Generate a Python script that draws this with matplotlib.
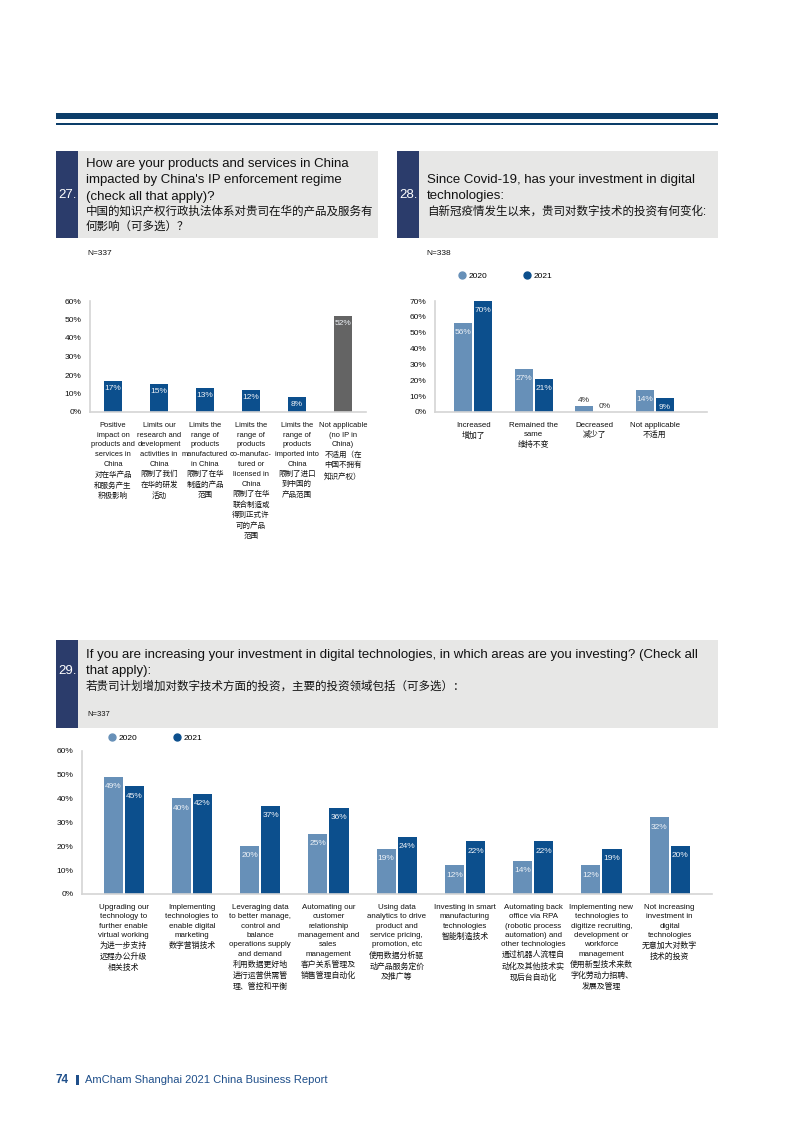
import matplotlib
matplotlib.use('Agg')
import matplotlib.pyplot as plt
from matplotlib.patches import Rectangle
from matplotlib.lines import Line2D
from matplotlib.ticker import PercentFormatter
import numpy as np

plt.rcParams['font.family'] = ['Liberation Sans', 'Noto Sans CJK SC']

# ---- data ----
q27_labels = [
    'Positive\nimpact on\nproducts and\nservices in\nChina\n对在华产品\n和服务产生\n积极影响',
    'Limits our\nresearch and\ndevelopment\nactivities in\nChina\n限制了我们\n在华的研发\n活动',
    'Limits the\nrange of\nproducts\nmanufactured\nin China\n限制了在华\n制造的产品\n范围',
    'Limits the\nrange of\nproducts\nco-manufac-\ntured or\nlicensed in\nChina\n限制了在华\n联合制造或\n得到正式许\n可的产品\n范围',
    'Limits the\nrange of\nproducts\nimported into\nChina\n限制了进口\n到中国的\n产品范围',
    'Not applicable\n(no IP in\nChina)\n不适用（在\n中国不拥有\n知识产权）',
]
q27_values = [17, 15, 13, 12, 8, 52]

q28_labels = ['Increased\n增加了', 'Remained the\nsame\n维持不变', 'Decreased\n减少了', 'Not applicable\n不适用']
q28_2020 = [56, 27, 4, 14]
q28_2021 = [70, 21, 0, 9]

q29_labels = [
    'Upgrading our\ntechnology to\nfurther enable\nvirtual working\n为进一步支持\n远程办公升级\n相关技术',
    'Implementing\ntechnologies to\nenable digital\nmarketing\n数字营销技术',
    'Leveraging data\nto better manage,\ncontrol and\nbalance\noperations supply\nand demand\n利用数据更好地\n进行运营供需管\n理、管控和平衡',
    'Automating our\ncustomer\nrelationship\nmanagement and\nsales\nmanagement\n客户关系管理及\n销售管理自动化',
    'Using data\nanalytics to drive\nproduct and\nservice pricing,\npromotion, etc\n使用数据分析驱\n动产品服务定价\n及推广等',
    'Investing in smart\nmanufacturing\ntechnologies\n智能制造技术',
    'Automating back\noffice via RPA\n(robotic process\nautomation) and\nother technologies\n通过机器人流程自\n动化及其他技术实\n现后台自动化',
    'Implementing new\ntechnologies to\ndigitize recruiting,\ndevelopment or\nworkforce\nmanagement\n使用新型技术来数\n字化劳动力招聘、\n发展及管理',
    'Not increasing\ninvestment in\ndigital\ntechnologies\n无意加大对数字\n技术的投资',
]
q29_2020 = [49, 40, 20, 25, 19, 12, 14, 12, 32]
q29_2021 = [45, 42, 37, 36, 24, 22, 22, 19, 20]

# ---- colours ----
RULE = '#0c3d69'
STRIP = '#2b3c6b'
BOXGREY = '#e7e7e6'
C2021 = '#0c4f8d'
C2020 = '#6790b8'
GREYBAR = '#646464'
SPINE = '#d4d4d4'
TXT = '#111111'

W, H = 793, 1122
fig = plt.figure(figsize=(W / 100, H / 100), dpi=100)


def fx(x):
    return x / W


def fy(y):
    return 1 - y / H


def rect(x0, y0, x1, y1, color):
    fig.add_artist(Rectangle((fx(x0), fy(y1)), (x1 - x0) / W, (y1 - y0) / H,
                             transform=fig.transFigure, color=color, lw=0))


def add_ax(x0, y0, x1, y1):
    return fig.add_axes([fx(x0), fy(y1), (x1 - x0) / W, (y1 - y0) / H])


def header(x0, y0, x1, y1, num, num_y, lines):
    rect(x0, y0, x1, y1, BOXGREY)
    rect(x0, y0, x0 + 22, y1, STRIP)
    fig.text(fx(x0 + 2), fy(num_y), num, color='white', fontsize=9.5, va='center')
    for txt, y, fs in lines:
        fig.text(fx(x0 + 30), fy(y), txt, color=TXT, fontsize=fs, va='center')


def style_ax(ax, ymax, step, xsize=5.7):
    ax.set_ylim(0, ymax)
    ax.set_yticks(np.arange(0, ymax + 1, step))
    ax.yaxis.set_major_formatter(PercentFormatter(decimals=0))
    for s in ['top', 'right']:
        ax.spines[s].set_visible(False)
    for s in ['left', 'bottom']:
        ax.spines[s].set_color(SPINE)
        ax.spines[s].set_linewidth(1.2)
    ax.tick_params(axis='y', length=0, pad=6, labelsize=6, labelcolor=TXT)
    ax.tick_params(axis='x', length=0, pad=7, labelsize=xsize, labelcolor=TXT)
    ax.patch.set_alpha(0)


def value_labels(ax, bars, values, off):
    for b, v in zip(bars, values):
        xc = b.get_x() + b.get_width() / 2
        if v < 6:
            ax.annotate(f'{v}%', (xc, v), xytext=(0, 4), textcoords='offset points',
                        ha='center', va='center', fontsize=6, color='#333333')
        else:
            ax.annotate(f'{v}%', (xc, v), xytext=(0, off), textcoords='offset points',
                        ha='center', va='center', fontsize=6, color='#eef2f7')


# ---- top rules ----
rect(56, 113, 718, 119.5, RULE)
rect(56, 122.5, 718, 125, RULE)

# ---- headers ----
header(56, 151, 378, 238, '27.', 195, [
    ('How are your products and services in China', 164, 9.5),
    ("impacted by China's IP enforcement regime", 180.5, 9.5),
    ('(check all that apply)?', 197, 9.5),
    ('中国的知识产权行政执法体系对贵司在华的产品及服务有', 212, 8.3),
    ('何影响（可多选）？', 227, 8.3),
])
header(397, 151, 718, 238, '28.', 195, [
    ('Since Covid-19, has your investment in digital', 180, 9.5),
    ('technologies:', 196, 9.5),
    ('自新冠疫情发生以来，贵司对数字技术的投资有何变化:', 212, 8.3),
])
header(56, 640, 718, 728, '29.', 671, [
    ('If you are increasing your investment in digital technologies, in which areas are you investing? (Check all', 655, 9.5),
    ('that apply):', 671, 9.5),
    ('若贵司计划增加对数字技术方面的投资，主要的投资领域包括（可多选）：', 687, 8.3),
])

# ---- chart 27 ----
fig.text(fx(87), fy(254), 'N=337', fontsize=6, color=TXT, va='center')
ax1 = add_ax(90, 301, 366, 412)
x1 = np.arange(len(q27_values))
cols = [C2021] * (len(q27_values) - 1) + [GREYBAR]
b1 = ax1.bar(x1, q27_values, width=0.4, color=cols)
style_ax(ax1, 60, 10, xsize=5.45)
ax1.set_xlim(-0.5, 5.5)
ax1.set_xticks(x1)
ax1.set_xticklabels(q27_labels, linespacing=1.56, va='top')
value_labels(ax1, b1, q27_values, -5.5)

# ---- chart 28 ----
fig.text(fx(426), fy(254), 'N=338', fontsize=6, color=TXT, va='center')
ax2 = add_ax(435, 301, 707, 412)
x2 = np.arange(len(q28_labels))
w2 = 0.3
b2a = ax2.bar(x2 - 0.167, q28_2020, width=w2, color=C2020)
b2b = ax2.bar(x2 + 0.167, q28_2021, width=w2, color=C2021)
style_ax(ax2, 70, 10)
ax2.set_xlim(-0.63, 3.86)
ax2.set_xticks(x2)
ax2.set_xticklabels(q28_labels, linespacing=1.45, va='top')
value_labels(ax2, b2a, q28_2020, -7)
value_labels(ax2, b2b, q28_2021, -7)
h = [Line2D([], [], marker='o', ls='', color=C2020, markersize=5),
     Line2D([], [], marker='o', ls='', color=C2021, markersize=5)]
ax2.legend(h, ['2020', '2021'], loc='center left', bbox_to_anchor=(fx(449), fy(276)),
           bbox_transform=fig.transFigure, ncol=2, frameon=False, fontsize=6,
           handletextpad=0.2, columnspacing=4.2, handlelength=1.2)

# ---- chart 29 ----
fig.text(fx(87), fy(715), 'N=337', fontsize=5.5, color=TXT, va='center')
ax3 = add_ax(82, 750.5, 712, 894)
x3 = np.arange(len(q29_labels))
w3 = 0.28
b3a = ax3.bar(x3 - 0.155, q29_2020, width=w3, color=C2020)
b3b = ax3.bar(x3 + 0.155, q29_2021, width=w3, color=C2021)
style_ax(ax3, 60, 10)
ax3.set_xlim(-0.61, 8.62)
ax3.set_xticks(x3)
ax3.set_xticklabels(q29_labels, linespacing=1.48, va='top')
value_labels(ax3, b3a, q29_2020, -7)
value_labels(ax3, b3b, q29_2021, -7)
ax3.legend(h, ['2020', '2021'], loc='center left', bbox_to_anchor=(fx(99), fy(738)),
           bbox_transform=fig.transFigure, ncol=2, frameon=False, fontsize=6,
           handletextpad=0.2, columnspacing=4.2, handlelength=1.2)

# ---- footer ----
fig.text(fx(55), fy(1080), '74', fontsize=8.5, fontweight='bold', color='#1f4f8a', va='center')
rect(76, 1075, 78.5, 1085, '#1f4f8a')
fig.text(fx(85), fy(1080), 'AmCham Shanghai 2021 China Business Report', fontsize=8,
         color='#1f4f8a', va='center')

fig.savefig('out.png', dpi=100)
